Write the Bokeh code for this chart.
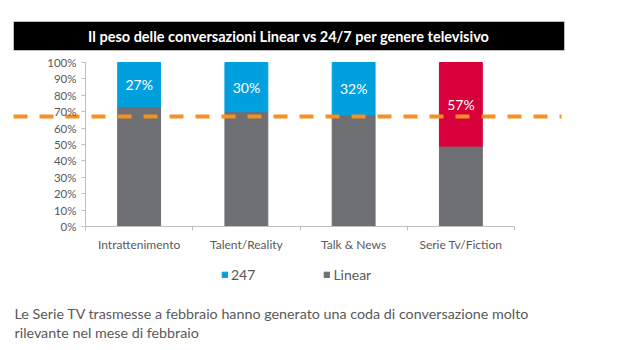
from bokeh.plotting import figure
from bokeh.models import (Range1d, LinearAxis, FixedTicker, NumeralTickFormatter,
                          Legend, LegendItem, ColumnDataSource)
from bokeh.core.properties import value
from bokeh.embed import file_html
from bokeh.resources import INLINE

# ---------------- data ----------------
categories = ["Intrattenimento", "Talent/Reality", "Talk & News", "Serie Tv/Fiction"]
linear = [0.73, 0.70, 0.68, 0.49]
share_247 = [0.27, 0.30, 0.32, 0.51]
labels_247 = ["27%", "30%", "32%", "57%"]
colors_247 = ["#00A0DF", "#00A0DF", "#00A0DF", "#D8003B"]
benchmark = 0.67
y_ticks = [0.0, 0.1, 0.2, 0.3, 0.4, 0.5, 0.6, 0.7, 0.8, 0.9, 1.0]
title_text = "Il peso delle conversazioni Linear vs 24/7 per genere televisivo"
note_lines = ["Le Serie TV trasmesse a febbraio hanno generato una coda di conversazione molto",
              "rilevante  nel mese di febbraio"]

# ---------------- layout geometry (pixels) ----------------
W, H = 633, 350
PX_LEFT, PX_RIGHT = 85, 514
PX_ZERO, PX_FULL = 226, 62
n = len(categories)
ux = (PX_RIGHT - PX_LEFT) / n
uy = float(PX_ZERO - PX_FULL)


def X(px):
    return (px - PX_LEFT) / ux - 0.5


def Y(py):
    return (PX_ZERO - py) / uy


FONT = "Lato"
GRAY_TXT = "#595959"

p = figure(width=W, height=H, output_backend="svg", toolbar_location=None,
           x_range=Range1d(X(0), X(W)), y_range=Range1d(Y(H), Y(0)),
           x_axis_type=None, y_axis_type=None, min_border=0,
           background_fill_color="white", border_fill_color="white")
p.outline_line_color = None
p.grid.visible = False

# ---------------- bars ----------------
xs = list(range(n))
src = ColumnDataSource(dict(
    x=xs, linear=linear,
    top=[l + s for l, s in zip(linear, share_247)],
    mid=[l + s / 2 for l, s in zip(linear, share_247)],
    color=colors_247, label=labels_247))

r_lin = p.vbar(x="x", bottom=0, top="linear", width=0.4, source=src,
               fill_color="#6E6F73", line_color="#6E6F73")
r_247 = p.vbar(x="x", bottom="linear", top="top", width=0.4, source=src,
               fill_color="color", line_color="color")
p.text(x="x", y="mid", text="label", source=src, text_color="white",
       text_font=value(FONT), text_font_size="14px",
       text_align="center", text_baseline="middle")

# ---------------- axes ----------------
yaxis = LinearAxis(fixed_location=X(PX_LEFT), bounds=(0, 1),
                   ticker=FixedTicker(ticks=y_ticks),
                   formatter=NumeralTickFormatter(format="0%"))
yaxis.axis_line_color = "#BFBFBF"
yaxis.major_tick_line_color = "#BFBFBF"
yaxis.major_tick_in = 0
yaxis.major_tick_out = 4
yaxis.minor_tick_line_color = None
yaxis.major_label_text_font = FONT
yaxis.major_label_text_font_size = "11.5px"
yaxis.major_label_text_color = GRAY_TXT
yaxis.major_label_standoff = 5
p.add_layout(yaxis, "left")

xaxis = LinearAxis(fixed_location=0, bounds=(-0.5, n - 0.5),
                   ticker=FixedTicker(ticks=xs, minor_ticks=[i - 0.5 for i in range(n + 1)]),
                   major_label_overrides={i: c for i, c in enumerate(categories)})
xaxis.axis_line_color = "#BFBFBF"
xaxis.major_tick_line_color = None
xaxis.minor_tick_line_color = "#BFBFBF"
xaxis.minor_tick_in = 0
xaxis.minor_tick_out = 4
xaxis.major_tick_out = 0
xaxis.major_tick_in = 0
xaxis.major_label_text_font = FONT
xaxis.major_label_text_font_size = "12px"
xaxis.major_label_text_color = GRAY_TXT
xaxis.major_label_standoff = 6
p.add_layout(xaxis, "below")

# ---------------- benchmark line ----------------
p.line(x=[X(13), X(561)], y=[benchmark, benchmark], line_color="#F7901E",
       line_width=4, line_dash="14 12")

# ---------------- title box ----------------
p.quad(left=[X(13)], right=[X(564)], top=[Y(21)], bottom=[Y(50)],
       fill_color="black", line_color="#BFBFBF", line_width=1)
p.text(x=[X(288.5)], y=[Y(35.5)], text=[title_text], text_color="white",
       text_font=value(FONT), text_font_style="bold", text_font_size="14.5px",
       text_align="center", text_baseline="middle")

# ---------------- note ----------------
p.text(x=[X(14), X(14)], y=[Y(313), Y(332)], text=note_lines, text_color=GRAY_TXT,
       text_font=value(FONT), text_font_size="14.3px",
       text_align="left", text_baseline="middle")

# ---------------- legend ----------------
legend = Legend(items=[LegendItem(label="247", renderers=[r_247], index=0),
                       LegendItem(label="Linear", renderers=[r_lin], index=0)],
                orientation="horizontal", location=(221, 67),
                padding=0, margin=0, spacing=68, label_standoff=3,
                glyph_width=7, glyph_height=7,
                label_text_font=FONT, label_text_font_size="14px",
                label_text_color=GRAY_TXT,
                border_line_color=None, background_fill_alpha=0)
p.add_layout(legend, "center")

open("out.html", "w").write(file_html(p, INLINE))
